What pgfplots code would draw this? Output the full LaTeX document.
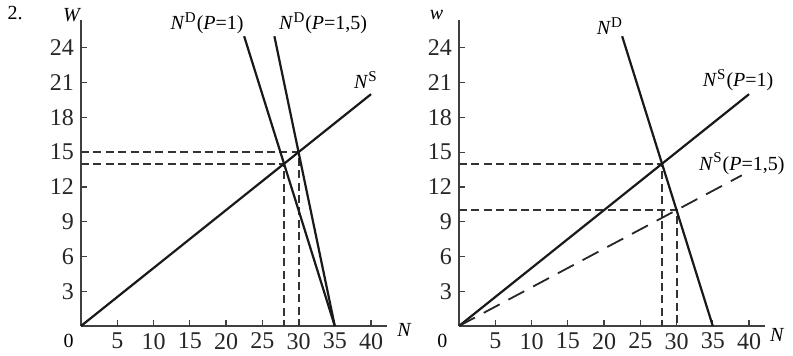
\documentclass[border=0pt]{standalone}
\usepackage{fontspec}
\setmainfont{Liberation Serif}
\usepackage{pgfplots}
\pgfplotsset{compat=1.18}
\pgfplotsset{
  myax/.style={
    scale only axis, width=153pt, height=153pt,
    xmin=0, xmax=42.2, ymin=0, ymax=26.4,
    axis x line=bottom, axis y line=left,
    axis line style={-, line width=0.7pt, black!75},
    xtick={5,10,...,40}, ytick={3,6,...,24},
    tick align=inside, major tick length=3pt,
    tick style={line width=0.6pt, black!75},
    clip=false,
    /pgf/number format/assume math mode=true,
    ticklabel style={font=\fontsize{12}{14}\selectfont, text=black!85},
    every node/.append style={font=\fontsize{12}{14}\selectfont, text=black!85},
  },
  solidl/.style={line width=1.1pt, black!90},
  dashl/.style={line width=1pt, black!80, dash pattern=on 4pt off 2.2pt},
  longd/.style={line width=0.9pt, black!85, dash pattern=on 9pt off 5pt},
}
\newcommand{\sps}[1]{\textsuperscript{\fontsize{7.5}{8}\selectfont #1}}
\begin{document}
\begin{tikzpicture}
\useasboundingbox (-40.5pt,-14.5pt) rectangle (356pt,163pt);
% left panel
\begin{axis}[myax, at={(0pt,0pt)}, anchor=south west]
\addplot[dashl] coordinates {(0,15) (30,15) (30,0)};
\addplot[dashl] coordinates {(0,14) (28,14) (28,0)};
\addplot[solidl] coordinates {(0,0) (40,20)};
\addplot[solidl] coordinates {(35,0) (22.5,25)};
\addplot[solidl] coordinates {(35,0) (26.67,25)};
\node at (axis cs:-9.1,27.0) {2.};
\node at (axis cs:-1.2,26.8) {\textit{W}};
\node at (axis cs:-1.7,-1.3) {0};
\node at (axis cs:44.6,-0.3) {\textit{N}};
\node at (axis cs:17.4,26.1) {\textit{N}\sps{D}(\textit{P}=1)};
\node at (axis cs:33.4,26.1) {\textit{N}\sps{D}(\textit{P}=1,5)};
\node at (axis cs:39.3,21.2) {\textit{N}\sps{S}};
\end{axis}
% right panel
\begin{axis}[myax, at={(189pt,0pt)}, anchor=south west]
\addplot[dashl] coordinates {(0,14) (28,14) (28,0)};
\addplot[dashl] coordinates {(0,10) (30,10) (30,0)};
\addplot[solidl] coordinates {(0,0) (40,20)};
\addplot[solidl] coordinates {(35,0) (22.5,25)};
\addplot[longd] coordinates {(0,0) (39,13)};
\node at (axis cs:-3.1,26.8) {\textit{w}};
\node at (axis cs:-2.3,-1.3) {0};
\node at (axis cs:43.9,-0.8) {\textit{N}};
\node at (axis cs:20.8,25.9) {\textit{N}\sps{D}};
\node at (axis cs:38.5,21.2) {\textit{N}\sps{S}(\textit{P}=1)};
\node at (axis cs:39.0,14.0) {\textit{N}\sps{S}(\textit{P}=1,5)};
\end{axis}
\end{tikzpicture}
\end{document}
